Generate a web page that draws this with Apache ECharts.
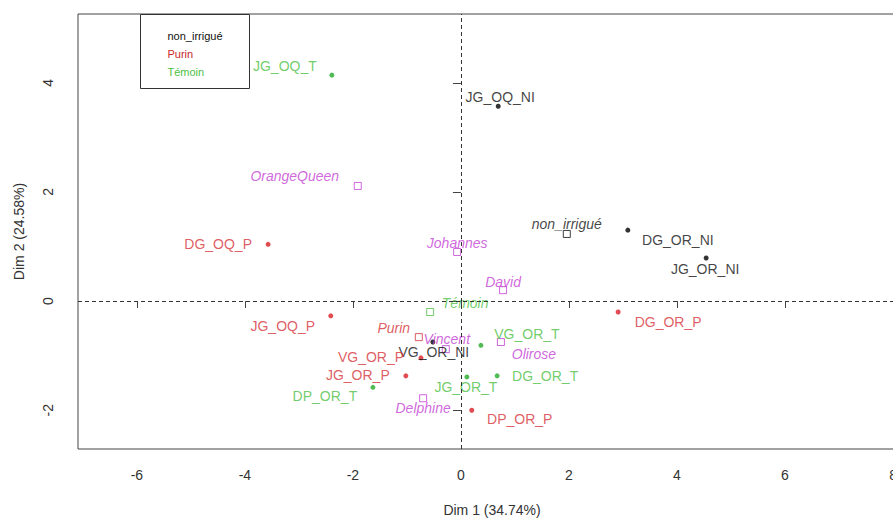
<!DOCTYPE html>
<html>
<head>
<meta charset="utf-8">
<script src="https://cdn.jsdelivr.net/npm/echarts@6/dist/echarts.min.js"></script>
<style>
  html, body { margin: 0; padding: 0; background: #ffffff; }
  #chart { width: 893px; height: 518px; }
</style>
</head>
<body>
<div id="chart"></div>
<script>
// Individuals — non irrigated plots
const niNames = ['JG_OQ_NI', 'DG_OR_NI', 'JG_OR_NI', 'VG_OR_NI'];
const niX = [0.69, 3.09, 4.54, -0.52];
const niY = [3.57, 1.30, 0.79, -0.75];

// Individuals — Purin
const purinNames = ['DG_OQ_P', 'JG_OQ_P', 'VG_OR_P', 'JG_OR_P', 'DP_OR_P', 'DG_OR_P'];
const purinX = [-3.57, -2.41, -0.74, -1.02, 0.20, 2.91];
const purinY = [1.04, -0.27, -1.04, -1.37, -2.00, -0.20];

// Individuals — Témoin
const temoinNames = ['JG_OQ_T', 'DP_OR_T', 'JG_OR_T', 'DG_OR_T', 'VG_OR_T'];
const temoinX = [-2.39, -1.63, 0.11, 0.67, 0.37];
const temoinY = [4.14, -1.58, -1.39, -1.37, -0.81];

// Supplementary categories (variety and treatment)
const catNames = ['OrangeQueen', 'Johannes', 'David', 'non_irrigué', 'Témoin', 'Purin', 'Vincent', 'Olirose', 'Delphine'];
const catX = [-1.91, -0.07, 0.78, 1.96, -0.57, -0.78, -0.28, 0.74, -0.70];
const catY = [2.11, 0.90, 0.20, 1.23, -0.20, -0.66, -0.88, -0.75, -1.78];

// Axis ticks and titles
const xTicks = [-6, -4, -2, 0, 2, 4, 6, 8];
const yTicks = [-2, 0, 2, 4];
const xTitle = 'Dim 1 (34.74%)';
const yTitle = 'Dim 2 (24.58%)';
const legendLabels = ['non_irrigué', 'Purin', 'Témoin'];

// Label displacement (px) from each point, keeps text clear of neighbours
const labelShift = {
  'JG_OQ_NI': [2, -9], 'DG_OR_NI': [50, 10], 'JG_OR_NI': [-1, 11], 'VG_OR_NI': [1, 10],
  'DG_OQ_P': [-50, 0], 'JG_OQ_P': [-48, 10], 'VG_OR_P': [-50, -1], 'JG_OR_P': [-48, -1],
  'DP_OR_P': [48, 9], 'DG_OR_P': [50, 10],
  'JG_OQ_T': [-47, -9], 'DP_OR_T': [-48, 9], 'JG_OR_T': [-1, 10], 'DG_OR_T': [48, 0], 'VG_OR_T': [46, -11],
  'OrangeQueen': [-63, -10], 'Johannes': [0, -9], 'David': [0, -8], 'non_irrigué': [0, -10],
  'Témoin': [35, -9], 'Purin': [-25, -9], 'Vincent': [1, -10], 'Olirose': [33, 12], 'Delphine': [0, 10]
};

const FONT = '"Liberation Sans", Arial, sans-serif';
const COL = { ni: '#111111', purin: '#D6343A', temoin: '#4DBF45', cat: '#C43FD4' };
const DOT = { ni: '#000000', purin: '#D91E26', temoin: '#26AA2A' };
const LEG = ['#111111', '#C8282E', '#4DBF45'];

function dotSeries(name, names, xs, ys, key) {
  return {
    type: 'scatter',
    name: name,
    symbol: 'circle',
    symbolSize: 5,
    itemStyle: { color: DOT[key] },
    label: {
      show: true, position: 'inside', formatter: '{b}',
      color: COL[key], fontSize: 14, fontFamily: FONT
    },
    emphasis: { disabled: true },
    data: names.map((n, i) => ({ name: n, value: [xs[i], ys[i]], label: { offset: labelShift[n] } }))
  };
}

function catColor(n) {
  if (n === 'non_irrigué') return COL.ni;
  if (n === 'Purin') return COL.purin;
  if (n === 'Témoin') return COL.temoin;
  return COL.cat;
}

const catSeries = {
  type: 'scatter',
  name: 'modalités',
  symbol: 'rect',
  symbolSize: 7,
  emphasis: { disabled: true },
  label: {
    show: true, position: 'inside', formatter: '{b}',
    fontSize: 14, fontStyle: 'italic', fontFamily: FONT
  },
  data: catNames.map((n, i) => ({
    name: n,
    value: [catX[i], catY[i]],
    itemStyle: { color: 'rgba(0,0,0,0)', borderColor: catColor(n), borderWidth: 1 },
    label: { offset: labelShift[n], color: catColor(n) }
  })),
  markLine: {
    silent: true,
    symbol: 'none',
    label: { show: false },
    lineStyle: { color: '#333', width: 1, type: [4, 3] },
    data: [{ xAxis: 0 }, { yAxis: 0 }]
  }
};

const chart = echarts.init(document.getElementById('chart'), null, { renderer: 'svg' });
chart.setOption({
  animation: false,
  backgroundColor: '#ffffff',
  grid: {
    left: 78, top: 14, width: 828, height: 435,
    outerBoundsMode: 'none', containLabel: false,
    show: true, borderColor: '#444', borderWidth: 1, backgroundColor: 'transparent'
  },
  xAxis: {
    type: 'value', min: -7.09, max: 8.24,
    axisLine: { show: false },
    splitLine: { show: false },
    axisTick: { show: true, length: 7, customValues: xTicks, lineStyle: { color: '#444' } },
    axisLabel: { customValues: xTicks, margin: 19, fontSize: 14, color: '#333', fontFamily: FONT },
    name: xTitle, nameLocation: 'middle', nameGap: 54,
    nameTextStyle: { fontSize: 14, color: '#333', fontFamily: FONT }
  },
  yAxis: {
    type: 'value', min: -2.71, max: 5.26,
    axisLine: { show: false },
    splitLine: { show: false },
    axisTick: { show: true, length: 8, customValues: yTicks, lineStyle: { color: '#444' } },
    axisLabel: { customValues: yTicks, rotate: 90, margin: 23, fontSize: 14, color: '#333', fontFamily: FONT },
    name: yTitle, nameLocation: 'middle', nameGap: 52,
    nameTextStyle: { fontSize: 14, color: '#333', fontFamily: FONT }
  },
  graphic: [{
    type: 'group', left: 140, top: 14, z: 100,
    children: [
      { type: 'rect', shape: { x: 0, y: 0, width: 109, height: 74 },
        style: { fill: '#ffffff', stroke: '#333', lineWidth: 1 } }
    ].concat(legendLabels.map((t, i) => ({
      type: 'text', x: 27, y: 21 + i * 18,
      style: { text: t, fill: LEG[i], fontSize: 11,
               fontFamily: FONT, verticalAlign: 'middle', align: 'left' }
    })))
  }],
  series: [
    catSeries,
    dotSeries('non_irrigué', niNames, niX, niY, 'ni'),
    dotSeries('Purin', purinNames, purinX, purinY, 'purin'),
    dotSeries('Témoin', temoinNames, temoinX, temoinY, 'temoin')
  ]
});
</script>
</body>
</html>
